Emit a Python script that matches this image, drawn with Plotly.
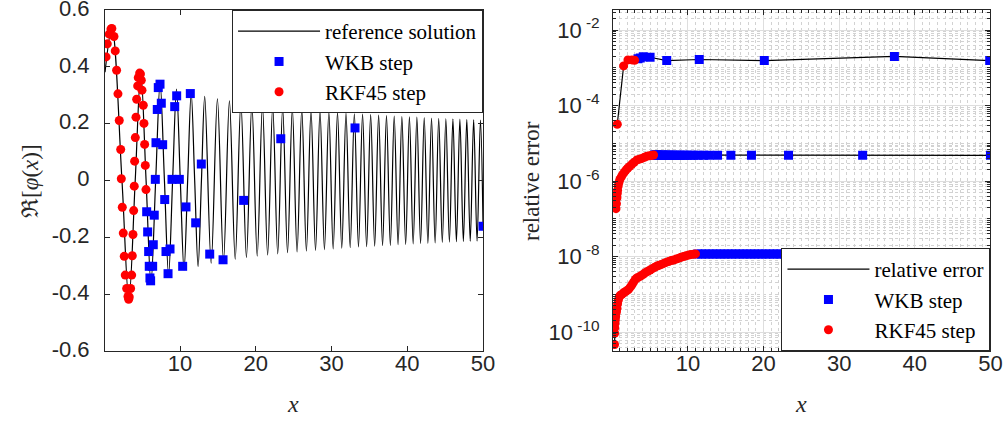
import plotly.graph_objects as go

# ---------------- left panel data ----------------
# reference solution: extrema / zero crossings
ref_x = [0.10, 1.019, 2.338, 3.248, 4.088, 4.820, 5.521, 6.163, 6.787, 7.372, 7.944,
         8.489, 9.023, 9.535, 10.040, 10.528, 11.009, 11.475, 11.936, 12.385, 12.829,
         13.263, 14.112, 14.937, 15.739, 16.522, 17.285, 18.034, 18.766, 19.483, 20.189,
         20.883, 21.564, 22.235, 22.896, 23.549, 24.193, 24.826, 25.452, 26.072, 26.683,
         27.290, 27.887, 28.478, 29.063, 29.645, 30.217, 30.788, 31.351, 31.909, 32.463,
         33.013, 33.557, 34.097, 34.633, 35.165, 35.693, 36.216, 36.736, 37.253, 37.766,
         38.275, 38.782, 39.285, 39.785, 40.281, 40.776, 41.265, 41.752, 42.237, 42.719,
         43.199, 43.676, 44.149, 44.622, 45.091, 45.558, 46.023, 46.484, 46.943, 47.402,
         47.856, 48.309, 48.760, 49.210, 49.657, 50.0]
ref_v = [0.381, 0.536, 0, -0.419, 0, 0.380, 0, -0.358, 0, 0.343, 0,
         -0.332, 0, 0.322, 0, -0.315, 0, 0.308, 0, -0.303, 0,
         0.296, -0.291, 0.287, -0.283, 0.280, -0.277, 0.274, -0.271, 0.269, -0.266,
         0.264, -0.262, 0.260, -0.258, 0.256, -0.254, 0.253, -0.251, 0.250, -0.248,
         0.247, -0.246, 0.244, -0.243, 0.242, -0.241, 0.240, -0.238, 0.237, -0.236,
         0.235, -0.234, 0.234, -0.233, 0.232, -0.231, 0.230, -0.229, 0.228, -0.228,
         0.227, -0.226, 0.225, -0.225, 0.224, -0.223, 0.223, -0.222, 0.221, -0.221,
         0.220, -0.220, 0.219, -0.218, 0.218, -0.217, 0.217, -0.216, 0.216, -0.215,
         0.215, -0.214, 0.214, -0.213, 0.213, -0.161]

rk_x = [0.24, 0.40, 0.66, 0.88, 1.0, 1.28, 1.45, 1.63, 1.81, 1.98, 2.17, 2.25, 2.38, 2.51,
        2.64, 2.77, 2.96, 3.13, 3.22, 3.30, 3.48, 3.62, 3.70, 3.79, 3.88, 3.96, 4.01, 4.10,
        4.19, 4.28, 4.41, 4.49, 4.67, 4.78, 4.89, 4.98, 5.15, 5.24, 5.33, 5.42, 5.51]
rk_v = [0.435, 0.481, 0.515, 0.533, 0.535, 0.507, 0.456, 0.388, 0.305, 0.211, 0.109, 0.006,
        -0.094, -0.185, -0.267, -0.333, -0.380, -0.408, -0.418, -0.410, -0.380, -0.333,
        -0.265, -0.190, -0.106, -0.020, 0.068, 0.151, 0.223, 0.286, 0.333, 0.362, 0.378,
        0.375, 0.353, 0.318, 0.265, 0.201, 0.127, 0.053, -0.032]

wkb_x = [5.60, 5.73, 5.86, 5.94, 6.03, 6.12, 6.39, 6.47, 6.60, 6.74, 6.83, 7.00, 7.13, 7.36,
         7.53, 7.71, 7.98, 8.15, 8.42, 8.68, 8.94, 9.30, 9.56, 9.91, 10.35, 10.79, 11.36,
         12.07, 12.81, 13.92, 15.68, 18.40, 23.30, 33.10, 50.0]
wkb_v = [-0.110, -0.181, -0.250, -0.302, -0.343, -0.353, -0.302, -0.226, -0.122, 0.004,
         0.133, 0.250, 0.327, 0.339, 0.272, 0.126, -0.067, -0.250, -0.328, -0.241, 0.004,
         0.260, 0.298, 0.004, -0.302, -0.093, 0.306, -0.149, 0.058, -0.259, -0.279, -0.070,
         0.147, 0.185, -0.161]

# ---------------- right panel data ----------------
# tolerance run 1 (largest error)
e1_rk_x = [0.66, 1.50, 2.07, 2.60, 2.95]
e1_rk_err = [3.2e-5, 1.12e-3, 1.62e-3, 1.62e-3, 1.58e-3]
e1_wkb_x = [3.40, 3.70, 4.10, 5.00, 7.20, 11.50, 20.10, 37.30, 49.90]
e1_wkb_err = [1.74e-3, 1.82e-3, 1.95e-3, 1.90e-3, 1.55e-3, 1.66e-3, 1.55e-3, 2.0e-3, 1.55e-3]

# tolerance run 2 (the run shown on the left)
e2_rk_x = [0.49, 0.55, 0.62, 0.66, 0.70, 0.78, 0.88, 1.00, 1.19, 1.35, 1.58, 1.80, 2.03,
           2.30, 2.60, 2.90, 3.26, 3.60, 3.92, 4.25, 4.58, 4.90, 5.20, 5.46]
e2_rk_err = [1.86e-7, 2.5e-7, 3.6e-7, 4.7e-7, 5.75e-7, 7.4e-7, 9.1e-7, 1.1e-6, 1.29e-6,
             1.48e-6, 1.7e-6, 1.95e-6, 2.19e-6, 2.45e-6, 2.82e-6, 3.16e-6, 3.63e-6, 3.8e-6,
             3.98e-6, 4.27e-6, 4.57e-6, 4.68e-6, 4.79e-6, 4.9e-6]
e2_wkb_err = [4.9e-6, 4.9e-6, 4.9e-6, 4.85e-6, 4.85e-6, 4.85e-6, 4.85e-6, 4.85e-6, 4.85e-6,
              4.85e-6, 4.85e-6, 4.8e-6, 4.8e-6, 4.8e-6, 4.8e-6, 4.8e-6, 4.8e-6, 4.8e-6,
              4.8e-6, 4.8e-6, 4.8e-6, 4.8e-6, 4.8e-6, 4.8e-6, 4.8e-6, 4.8e-6, 4.8e-6,
              4.8e-6, 4.8e-6, 4.8e-6, 4.8e-6, 4.8e-6, 4.8e-6, 4.8e-6, 4.8e-6]

# tolerance run 3 (smallest error)
e3_rk_x = [0.30, 0.31, 0.33, 0.36, 0.40, 0.45, 0.50, 0.56, 0.62, 0.70, 0.80, 0.92, 1.06,
           1.28, 1.50, 1.72, 1.95, 2.15, 2.38, 2.60, 2.81, 3.04, 3.30, 3.55, 3.80, 4.10,
           4.40, 4.70, 5.00, 5.30, 5.60, 5.90, 6.20, 6.50, 6.80, 7.10, 7.45, 7.80, 8.10,
           8.45, 8.80, 9.10, 9.42, 9.75, 10.10, 10.40, 10.74, 11.00]
e3_rk_err = [4.7e-11, 9.3e-11, 1.3e-10, 1.7e-10, 2.1e-10, 2.6e-10, 3.2e-10, 3.6e-10, 4.3e-10,
             5.6e-10, 7.1e-10, 8.5e-10, 9.5e-10, 1.0e-9, 1.1e-9, 1.17e-9, 1.25e-9, 1.35e-9,
             1.55e-9, 1.8e-9, 2.1e-9, 2.5e-9, 2.75e-9, 2.9e-9, 3.1e-9, 3.4e-9, 3.8e-9,
             4.1e-9, 4.4e-9, 4.8e-9, 5.2e-9, 5.6e-9, 5.9e-9, 6.2e-9, 6.6e-9, 7.0e-9, 7.4e-9,
             7.9e-9, 8.1e-9, 8.6e-9, 9.1e-9, 9.6e-9, 1.0e-8, 1.05e-8, 1.1e-8, 1.13e-8,
             1.16e-8, 1.18e-8]
e3_wkb_x = [11.3, 11.8, 12.3, 12.8, 13.3, 13.8, 14.3, 14.8, 15.3, 15.8, 16.3, 16.8, 17.3,
            17.8, 18.3, 18.8, 19.3, 19.8, 20.3, 20.8, 21.3, 21.8, 22.3, 22.8, 23.3, 23.8,
            24.3, 24.8, 25.3, 25.8, 26.3, 26.8, 27.3, 27.8, 28.3, 28.8, 29.3, 29.8, 30.3,
            30.8, 31.3, 31.8, 32.3, 32.8, 33.3, 33.8, 34.3, 34.9, 35.5, 36.1, 36.7, 37.3,
            37.9, 38.6, 39.3, 40.0, 40.8, 41.6, 42.5, 43.3, 44.0, 45.3, 46.9, 48.6, 49.9]
e3_wkb_err = [1.18e-8] * 20 + [1.17e-8] * 45

LEFT_DOM = [0.1047, 0.4816]
RIGHT_DOM = [0.6112, 0.9875]
Y_DOM = [0.1663, 0.9762]

BLUE = "#0000ff"
RED = "#ff0000"
AXC = "#262626"
SERIF = "Liberation Serif"
SANS = "Liberation Sans"

fig = go.Figure()

# left panel
fig.add_trace(go.Scatter(x=ref_x, y=ref_v, mode="lines", line=dict(color="black", width=1.2, shape="spline", smoothing=1.0),
                         name="reference solution", xaxis="x", yaxis="y", legend="legend"))
fig.add_trace(go.Scatter(x=wkb_x, y=wkb_v, mode="markers", marker=dict(symbol="square", size=9, color=BLUE),
                         name="WKB step", xaxis="x", yaxis="y", legend="legend"))
fig.add_trace(go.Scatter(x=rk_x, y=rk_v, mode="markers", marker=dict(symbol="circle", size=9, color=RED),
                         name="RKF45 step", xaxis="x", yaxis="y", legend="legend"))

# right panel
runs = [(e1_rk_x, e1_rk_err, e1_wkb_x, e1_wkb_err),
        (e2_rk_x, e2_rk_err, wkb_x, e2_wkb_err),
        (e3_rk_x, e3_rk_err, e3_wkb_x, e3_wkb_err)]
for i, (rx, re, wx, we) in enumerate(runs):
    pts = sorted(zip(list(rx) + list(wx), list(re) + list(we)))
    fig.add_trace(go.Scatter(x=[p[0] for p in pts], y=[p[1] for p in pts], mode="lines",
                             line=dict(color="black", width=1.2), name="relative error",
                             showlegend=(i == 0), xaxis="x2", yaxis="y2", legend="legend2"))
for i, (rx, re, wx, we) in enumerate(runs):
    fig.add_trace(go.Scatter(x=wx, y=we, mode="markers", marker=dict(symbol="square", size=9, color=BLUE),
                             name="WKB step", showlegend=(i == 0), xaxis="x2", yaxis="y2", legend="legend2"))
for i, (rx, re, wx, we) in enumerate(runs):
    fig.add_trace(go.Scatter(x=rx, y=re, mode="markers", marker=dict(symbol="circle", size=9, color=RED),
                             name="RKF45 step", showlegend=(i == 0), xaxis="x2", yaxis="y2", legend="legend2"))

common_ax = dict(showline=True, linecolor=AXC, linewidth=1, mirror="allticks", ticks="inside",
                 ticklen=5, tickcolor=AXC, tickfont=dict(family=SANS, size=22, color=AXC),
                 zeroline=False, automargin=False, ticklabeloverflow="allow")

minor_y = [d * 10.0 ** e for e in range(-11, -1) for d in range(1, 10)]

fig.update_layout(
    width=1003, height=421, margin=dict(l=0, r=0, t=0, b=0, autoexpand=False),
    paper_bgcolor="white", plot_bgcolor="white",
    font=dict(family=SERIF, size=20, color="black"),
    xaxis=dict(domain=LEFT_DOM, range=[0.1, 50], tickvals=[10, 20, 30, 40, 50], showgrid=False,
               anchor="y", ticklabelstandoff=-7, **common_ax),
    yaxis=dict(domain=Y_DOM, range=[-0.6, 0.6], tickvals=[-0.6, -0.4, -0.2, 0, 0.2, 0.4, 0.6],
               ticktext=["-0.6", "-0.4", "-0.2", "0", "0.2", "0.4", "0.6"], showgrid=False,
               anchor="x", ticklabelstandoff=10, ticklabelshift=-2, **common_ax),
    xaxis2=dict(domain=RIGHT_DOM, range=[0.1, 50], tickvals=[10, 20, 30, 40, 50], showgrid=True,
                gridcolor="#dedede", gridwidth=1, anchor="y2", ticklabelstandoff=-7,
                minor=dict(dtick=1, tick0=0, showgrid=True, gridcolor="#d2d2d2", griddash="dot",
                           ticks="inside", ticklen=3, tickcolor=AXC),
                **common_ax),
    yaxis2=dict(domain=Y_DOM, type="log", range=[-10.50, -1.47],
                tickvals=[1e-10, 1e-8, 1e-6, 1e-4, 1e-2],
                ticktext=["10<sup> -10</sup>", "10<sup> -8</sup>", "10<sup> -6</sup>", "10<sup> -4</sup>", "10<sup> -2</sup>"],
                showgrid=True, gridcolor="#dedede", gridwidth=1, anchor="x2", ticklabelstandoff=8,
                minor=dict(tickmode="array", tickvals=minor_y, showgrid=True, gridcolor="#d2d2d2",
                           griddash="dot", ticks="inside", ticklen=3, tickcolor=AXC),
                **common_ax),
    legend=dict(x=LEFT_DOM[1], y=Y_DOM[1], xanchor="right", yanchor="top",
                bgcolor="white", bordercolor=AXC, borderwidth=1,
                font=dict(family=SERIF, size=21, color="black"), itemwidth=82, tracegroupgap=0),
    legend2=dict(x=RIGHT_DOM[1], y=Y_DOM[0], xanchor="right", yanchor="bottom",
                 bgcolor="white", bordercolor=AXC, borderwidth=1,
                 font=dict(family=SERIF, size=21, color="black"), itemwidth=82, tracegroupgap=0),
    annotations=[
        dict(text="<i>x</i>", x=293 / 1003, y=1 - 404 / 421, xref="paper", yref="paper",
             xanchor="center", yanchor="middle",
             showarrow=False, font=dict(family=SERIF, size=24, color=AXC)),
        dict(text="<i>x</i>", x=801 / 1003, y=1 - 404 / 421, xref="paper", yref="paper",
             xanchor="center", yanchor="middle",
             showarrow=False, font=dict(family=SERIF, size=24, color=AXC)),
        dict(text="ℜ[<i>φ</i>(<i>x</i>)]", x=30 / 1003, y=1 - 181 / 421, xref="paper", yref="paper",
             xanchor="center", yanchor="middle",
             showarrow=False, textangle=-90, font=dict(family=SERIF, size=23, color=AXC)),
        dict(text="relative error", x=531 / 1003, y=1 - 181 / 421, xref="paper", yref="paper",
             xanchor="center", yanchor="middle",
             showarrow=False, textangle=-90, font=dict(family=SERIF, size=23, color=AXC)),
    ],
)

fig.write_html("out.html", config={"displayModeBar": False},
               post_script="document.body.style.margin='0px';document.body.style.overflow='hidden';")
